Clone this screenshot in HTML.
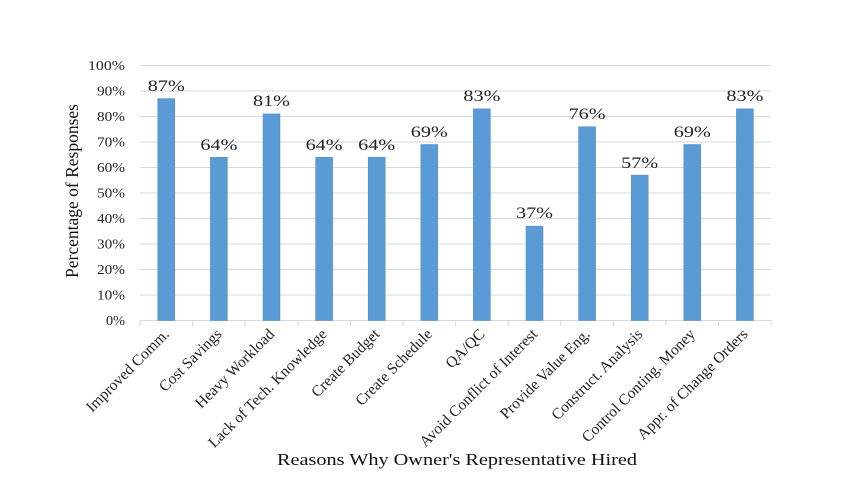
<!DOCTYPE html>
<html><head><style>body{margin:0;background:#fff}</style></head><body>
<svg width="860" height="480" xmlns="http://www.w3.org/2000/svg" font-family="Liberation Serif, serif">
<g stroke="#d9d9d9" stroke-width="1">
<line x1="140" x2="771" y1="65.5" y2="65.5"/><line x1="140" x2="771" y1="91" y2="91"/>
<line x1="140" x2="771" y1="116.5" y2="116.5"/><line x1="140" x2="771" y1="142" y2="142"/>
<line x1="140" x2="771" y1="167.5" y2="167.5"/><line x1="140" x2="771" y1="193" y2="193"/>
<line x1="140" x2="771" y1="218.5" y2="218.5"/><line x1="140" x2="771" y1="244" y2="244"/>
<line x1="140" x2="771" y1="269.5" y2="269.5"/><line x1="140" x2="771" y1="295" y2="295"/>
<line x1="140" x2="771" y1="320.5" y2="320.5"/>
</g>
<g stroke="#d9d9d9"><line x1="140" y1="320" x2="140" y2="326"/><line x1="192.6" y1="320" x2="192.6" y2="326"/><line x1="245.2" y1="320" x2="245.2" y2="326"/><line x1="297.8" y1="320" x2="297.8" y2="326"/><line x1="350.4" y1="320" x2="350.4" y2="326"/><line x1="403" y1="320" x2="403" y2="326"/><line x1="455.6" y1="320" x2="455.6" y2="326"/><line x1="508.2" y1="320" x2="508.2" y2="326"/><line x1="560.8" y1="320" x2="560.8" y2="326"/><line x1="613.4" y1="320" x2="613.4" y2="326"/><line x1="666" y1="320" x2="666" y2="326"/><line x1="718.6" y1="320" x2="718.6" y2="326"/><line x1="771.2" y1="320" x2="771.2" y2="326"/></g>
<g font-size="13.5" fill="#222" text-anchor="end" lengthAdjust="spacingAndGlyphs">
<text x="125" y="70" textLength="37" lengthAdjust="spacingAndGlyphs">100%</text>
<text x="125" y="95.5" textLength="28" lengthAdjust="spacingAndGlyphs">90%</text>
<text x="125" y="121" textLength="28" lengthAdjust="spacingAndGlyphs">80%</text>
<text x="125" y="146.5" textLength="28" lengthAdjust="spacingAndGlyphs">70%</text>
<text x="125" y="172" textLength="28" lengthAdjust="spacingAndGlyphs">60%</text>
<text x="125" y="197.5" textLength="28" lengthAdjust="spacingAndGlyphs">50%</text>
<text x="125" y="223" textLength="28" lengthAdjust="spacingAndGlyphs">40%</text>
<text x="125" y="248.5" textLength="28" lengthAdjust="spacingAndGlyphs">30%</text>
<text x="125" y="274" textLength="28" lengthAdjust="spacingAndGlyphs">20%</text>
<text x="125" y="299.5" textLength="28" lengthAdjust="spacingAndGlyphs">10%</text>
<text x="125" y="325" textLength="19" lengthAdjust="spacingAndGlyphs">0%</text>
</g>
<text transform="translate(78,191) rotate(-90)" text-anchor="middle" font-size="17.5" fill="#111">Percentage of Responses</text>
<g fill="#5b9bd5" stroke="#4a8ac4" stroke-width="0.5">
<rect x="157.8" y="98.6" width="17" height="221.9"/>
<rect x="210.4" y="157.3" width="17" height="163.2"/>
<rect x="263" y="113.9" width="17" height="206.6"/>
<rect x="315.6" y="157.3" width="17" height="163.2"/>
<rect x="368.2" y="157.3" width="17" height="163.2"/>
<rect x="420.8" y="144.5" width="17" height="176"/>
<rect x="473.4" y="108.8" width="17" height="211.7"/>
<rect x="526" y="226.1" width="17" height="94.4"/>
<rect x="578.6" y="126.7" width="17" height="193.8"/>
<rect x="631.2" y="175.1" width="17" height="145.4"/>
<rect x="683.8" y="144.5" width="17" height="176"/>
<rect x="736.4" y="108.8" width="17" height="211.7"/>
</g>
<g font-size="16" fill="#222" text-anchor="middle">
<text x="166.3" y="91" textLength="37" lengthAdjust="spacingAndGlyphs">87%</text>
<text x="218.9" y="150" textLength="37" lengthAdjust="spacingAndGlyphs">64%</text>
<text x="271.5" y="106" textLength="37" lengthAdjust="spacingAndGlyphs">81%</text>
<text x="324.1" y="150" textLength="37" lengthAdjust="spacingAndGlyphs">64%</text>
<text x="376.7" y="150" textLength="37" lengthAdjust="spacingAndGlyphs">64%</text>
<text x="429.3" y="137" textLength="37" lengthAdjust="spacingAndGlyphs">69%</text>
<text x="481.9" y="101" textLength="37" lengthAdjust="spacingAndGlyphs">83%</text>
<text x="534.5" y="218" textLength="37" lengthAdjust="spacingAndGlyphs">37%</text>
<text x="587.1" y="119" textLength="37" lengthAdjust="spacingAndGlyphs">76%</text>
<text x="639.7" y="168" textLength="37" lengthAdjust="spacingAndGlyphs">57%</text>
<text x="692.3" y="137" textLength="37" lengthAdjust="spacingAndGlyphs">69%</text>
<text x="744.9" y="101" textLength="37" lengthAdjust="spacingAndGlyphs">83%</text>
</g>
<g font-size="15.5" fill="#222" text-anchor="end">
<text transform="translate(170,335) rotate(-45)">Improved Comm.</text>
<text transform="translate(222.6,335) rotate(-45)">Cost Savings</text>
<text transform="translate(275.2,335) rotate(-45)">Heavy Workload</text>
<text transform="translate(327.8,335) rotate(-45)">Lack of Tech. Knowledge</text>
<text transform="translate(380.4,335) rotate(-45)">Create Budget</text>
<text transform="translate(433,335) rotate(-45)">Create Schedule</text>
<text transform="translate(485.6,335) rotate(-45)">QA/QC</text>
<text transform="translate(538.2,335) rotate(-45)">Avoid Conflict of Interest</text>
<text transform="translate(590.8,335) rotate(-45)">Provide Value Eng.</text>
<text transform="translate(643.4,335) rotate(-45)">Construct. Analysis</text>
<text transform="translate(696,335) rotate(-45)">Control Conting. Money</text>
<text transform="translate(748.6,335) rotate(-45)">Appr. of Change Orders</text>
</g>
<text x="457" y="465" text-anchor="middle" font-size="17" fill="#111" textLength="360" lengthAdjust="spacingAndGlyphs">Reasons Why Owner's Representative Hired</text>
</svg>
</body></html>
